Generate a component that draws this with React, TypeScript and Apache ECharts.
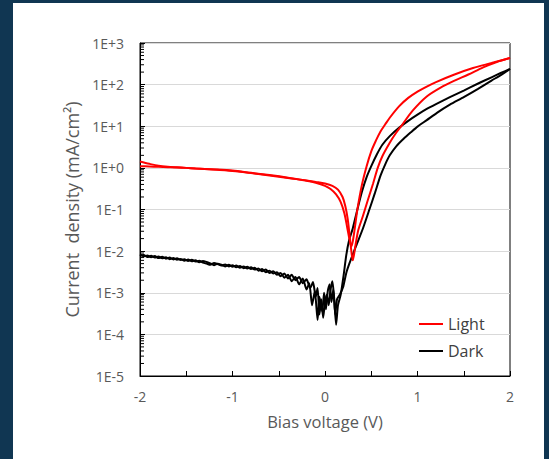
import React, { useEffect, useRef } from "react";
import * as echarts from "echarts";

// Bias voltage (V), current density (mA/cm²)
const lightSweepA: [number, number][] = [
  [-2.0, 1.42], [-1.9, 1.25], [-1.8, 1.12], [-1.7, 1.06], [-1.6, 1.03], [-1.5, 1.0],
  [-1.4, 0.97], [-1.2, 0.92], [-1.0, 0.86], [-0.8, 0.76], [-0.6, 0.67], [-0.4, 0.58],
  [-0.2, 0.49], [-0.1, 0.44], [0.0, 0.37], [0.06, 0.31], [0.12, 0.23], [0.17, 0.15],
  [0.21, 0.08], [0.24, 0.037], [0.265, 0.019], [0.285, 0.013], [0.3, 0.017],
  [0.32, 0.033], [0.35, 0.1], [0.4, 0.4], [0.45, 1.1], [0.5, 2.5], [0.55, 4.5],
  [0.6, 7.5], [0.65, 11], [0.7, 16], [0.8, 30], [0.9, 48], [1.0, 68], [1.1, 90],
  [1.2, 115], [1.4, 175], [1.6, 250], [1.8, 330], [1.9, 380], [2.0, 435],
];

const lightSweepB: [number, number][] = [
  [-2.0, 1.1], [-1.9, 1.08], [-1.8, 1.06], [-1.7, 1.04], [-1.6, 1.02], [-1.5, 1.0],
  [-1.4, 0.97], [-1.2, 0.91], [-1.0, 0.84], [-0.8, 0.75], [-0.6, 0.66], [-0.4, 0.57],
  [-0.2, 0.5], [-0.1, 0.46], [0.0, 0.42], [0.08, 0.37], [0.14, 0.3], [0.19, 0.2],
  [0.22, 0.12], [0.245, 0.06], [0.265, 0.025], [0.285, 0.01], [0.3, 0.006],
  [0.33, 0.014], [0.36, 0.032], [0.41, 0.07], [0.46, 0.16], [0.52, 0.42],
  [0.57, 1.0], [0.62, 1.9], [0.7, 4], [0.76, 6.5], [0.83, 10.5], [0.95, 24],
  [1.1, 52], [1.25, 85], [1.4, 125], [1.55, 175], [1.71, 260], [1.85, 345], [2.0, 435],
];

const darkSweepA: [number, number][] = [
  [-2.0, 0.0082], [-1.96, 0.0075], [-1.92, 0.0079], [-1.88, 0.0071], [-1.84, 0.0076],
  [-1.8, 0.0068], [-1.76, 0.0073], [-1.72, 0.0066], [-1.68, 0.007], [-1.64, 0.0063],
  [-1.6, 0.0067], [-1.56, 0.0061], [-1.52, 0.0064], [-1.48, 0.0058], [-1.44, 0.0062],
  [-1.4, 0.0056], [-1.36, 0.0059], [-1.32, 0.0053], [-1.28, 0.005], [-1.24, 0.0047],
  [-1.2, 0.0052], [-1.16, 0.0049], [-1.12, 0.0045], [-1.08, 0.0048], [-1.04, 0.0043],
  [-1.0, 0.0046], [-0.96, 0.0041], [-0.92, 0.0044], [-0.88, 0.0039], [-0.84, 0.0042],
  [-0.8, 0.0037], [-0.76, 0.004], [-0.72, 0.0034], [-0.68, 0.0037], [-0.64, 0.0031],
  [-0.6, 0.0034], [-0.56, 0.0029], [-0.52, 0.0031], [-0.48, 0.0025], [-0.44, 0.0029],
  [-0.4, 0.0022], [-0.36, 0.0027], [-0.32, 0.002], [-0.28, 0.0024], [-0.24, 0.0017],
  [-0.2, 0.0021], [-0.16, 0.0013], [-0.13, 0.0018], [-0.1, 0.0008], [-0.08, 0.0013],
  [-0.06, 0.0003], [-0.04, 0.0007], [-0.02, 0.00025], [0.0, 0.0006], [0.02, 0.0009],
  [0.04, 0.0005], [0.06, 0.0012], [0.08, 0.0019], [0.1, 0.0007], [0.12, 0.00017],
  [0.14, 0.0005], [0.17, 0.0009], [0.2, 0.0025], [0.23, 0.008], [0.26, 0.018],
  [0.3, 0.035], [0.35, 0.1], [0.4, 0.27], [0.45, 0.6], [0.5, 1.1], [0.56, 2.1],
  [0.62, 3.6], [0.7, 5.8], [0.8, 9.2], [0.9, 13.5], [1.0, 19], [1.1, 26], [1.2, 34],
  [1.35, 50], [1.5, 72], [1.65, 105], [1.8, 150], [1.9, 190], [2.0, 237],
];

const darkSweepB: [number, number][] = [
  [-2.0, 0.0078], [-1.96, 0.0081], [-1.92, 0.0072], [-1.88, 0.0077], [-1.84, 0.007],
  [-1.8, 0.0074], [-1.76, 0.0067], [-1.72, 0.0071], [-1.68, 0.0064], [-1.64, 0.0068],
  [-1.6, 0.0062], [-1.56, 0.0065], [-1.52, 0.0059], [-1.48, 0.0063], [-1.44, 0.0057],
  [-1.4, 0.006], [-1.36, 0.0054], [-1.32, 0.0058], [-1.28, 0.0055], [-1.24, 0.0051],
  [-1.2, 0.0046], [-1.16, 0.005], [-1.12, 0.0047], [-1.08, 0.0043], [-1.04, 0.0047],
  [-1.0, 0.0042], [-0.96, 0.0045], [-0.92, 0.004], [-0.88, 0.0043], [-0.84, 0.0038],
  [-0.8, 0.0041], [-0.76, 0.0036], [-0.72, 0.0038], [-0.68, 0.0033], [-0.64, 0.0036],
  [-0.6, 0.003], [-0.56, 0.0033], [-0.52, 0.0027], [-0.48, 0.003], [-0.44, 0.0023],
  [-0.4, 0.0027], [-0.36, 0.0019], [-0.32, 0.0024], [-0.28, 0.0016], [-0.24, 0.0022],
  [-0.2, 0.0012], [-0.17, 0.0017], [-0.14, 0.0005], [-0.11, 0.0011], [-0.08, 0.00022],
  [-0.06, 0.0008], [-0.03, 0.00035], [-0.01, 0.001], [0.01, 0.0004], [0.03, 0.0011],
  [0.05, 0.0016], [0.07, 0.0006], [0.09, 0.0012], [0.11, 0.0003], [0.13, 0.0007],
  [0.16, 0.0009], [0.195, 0.00135], [0.23, 0.003], [0.27, 0.0055], [0.34, 0.014],
  [0.41, 0.035], [0.48, 0.1], [0.54, 0.25], [0.6, 0.65], [0.65, 1.2], [0.7, 2.0],
  [0.77, 3.3], [0.85, 5.0], [0.93, 7.2], [1.0, 9.8], [1.1, 14], [1.21, 21],
  [1.35, 33], [1.5, 50], [1.65, 78], [1.8, 125], [1.9, 170], [2.0, 237],
];

const xTicks = [-2, -1, 0, 1, 2];
const yDecades = [-5, -4, -3, -2, -1, 0, 1, 2, 3];
const minorMultipliers = [2, 3, 4, 5, 6, 7, 8, 9];

const FONT = "'Open Sans', 'Liberation Sans', sans-serif";
const GREY = "#595959";

function fmtExp(v: number): string {
  const e = Math.round(Math.log10(v));
  return `1E${e < 0 ? "-" : "+"}${Math.abs(e)}`;
}

export default function App() {
  const ref = useRef<HTMLDivElement>(null);

  useEffect(() => {
    if (!ref.current) return;
    const chart = echarts.init(ref.current, undefined, { renderer: "svg" });

    const yMinor: [number, number][] = [];
    yDecades.slice(0, -1).forEach((e) => {
      minorMultipliers.forEach((m) => yMinor.push([xTicks[0], m * Math.pow(10, e)]));
    });

    const lineStyle = (c: string) => ({ color: c, width: 2 });

    chart.setOption({
      animation: false,
      backgroundColor: "transparent",
      grid: {
        left: 140,
        right: 39,
        top: 43,
        bottom: 83,
        show: true,
        borderColor: "#000",
        borderWidth: 1,
        backgroundColor: "transparent",
      },
      legend: {
        data: [
          { name: "Light", icon: "rect", itemStyle: { color: "#ff0000" } },
          { name: "Dark", icon: "rect", itemStyle: { color: "#000" } },
        ],
        orient: "vertical",
        left: 419,
        top: 316,
        padding: 0,
        itemWidth: 24,
        itemHeight: 2,
        itemGap: 11,
        textStyle: { fontFamily: FONT, fontSize: 16, color: "#404040" },
      },
      xAxis: {
        type: "value",
        min: xTicks[0],
        max: xTicks[xTicks.length - 1],
        interval: 1,
        name: "Bias voltage (V)",
        nameLocation: "middle",
        nameGap: 37,
        nameTextStyle: { fontFamily: FONT, fontSize: 16.5, color: GREY },
        axisLine: { show: true, onZero: false, lineStyle: { color: "#000", width: 1 } },
        axisTick: { show: true, inside: true, length: 5, lineStyle: { color: "#000" } },
        minorTick: { show: true, splitNumber: 2, length: 5, lineStyle: { color: "#000" } },
        axisLabel: { fontFamily: FONT, fontSize: 14, color: GREY, margin: 13 },
        splitLine: { show: false },
      },
      yAxis: {
        type: "log",
        logBase: 10,
        min: 1e-5,
        max: 1e3,
        splitNumber: 8,
        name: "Current  density (mA/cm²)",
        nameLocation: "middle",
        nameGap: 58,
        nameTextStyle: { fontFamily: FONT, fontSize: 18, color: GREY },
        axisLine: { show: true, onZero: false, lineStyle: { color: "#000", width: 1 } },
        axisTick: { show: true, inside: true, length: 5, lineStyle: { color: "#000" } },
        axisLabel: { fontFamily: FONT, fontSize: 14, color: GREY, margin: 16, formatter: fmtExp },
        splitLine: { show: true, lineStyle: { color: "#d9d9d9", width: 1 } },
      },
      series: [
        {
          type: "custom",
          name: "yMinorTicks",
          silent: true,
          z: 5,
          data: yMinor,
          encode: { x: 0, y: 1 },
          renderItem: (_p: any, api: any) => {
            const p = api.coord([api.value(0), api.value(1)]);
            return {
              type: "line",
              shape: { x1: p[0], y1: p[1], x2: p[0] + 4, y2: p[1] },
              style: { stroke: "#000", lineWidth: 1 },
            };
          },
        },
        { type: "line", name: "Dark", data: darkSweepA, symbol: "none", smooth: 0.2, lineStyle: lineStyle("#000"), itemStyle: { color: "#000" }, z: 3 },
        { type: "line", name: "Dark", data: darkSweepB, symbol: "none", smooth: 0.2, lineStyle: lineStyle("#000"), itemStyle: { color: "#000" }, z: 3 },
        { type: "line", name: "Light", data: lightSweepA, symbol: "none", smooth: 0.3, lineStyle: lineStyle("#ff0000"), itemStyle: { color: "#ff0000" }, z: 4 },
        { type: "line", name: "Light", data: lightSweepB, symbol: "none", smooth: 0.3, lineStyle: lineStyle("#ff0000"), itemStyle: { color: "#ff0000" }, z: 4 },
      ],
    });

    return () => chart.dispose();
  }, []);

  return (
    <div style={{ position: "fixed", left: 0, top: 0, width: 549, height: 459, background: "#103652", overflow: "hidden" }}>
      <div style={{ position: "absolute", left: 13, top: 3, width: 531, height: 460, background: "#ffffff" }} />
      <div ref={ref} style={{ position: "absolute", left: 0, top: 0, width: 549, height: 459 }} />
    </div>
  );
}
